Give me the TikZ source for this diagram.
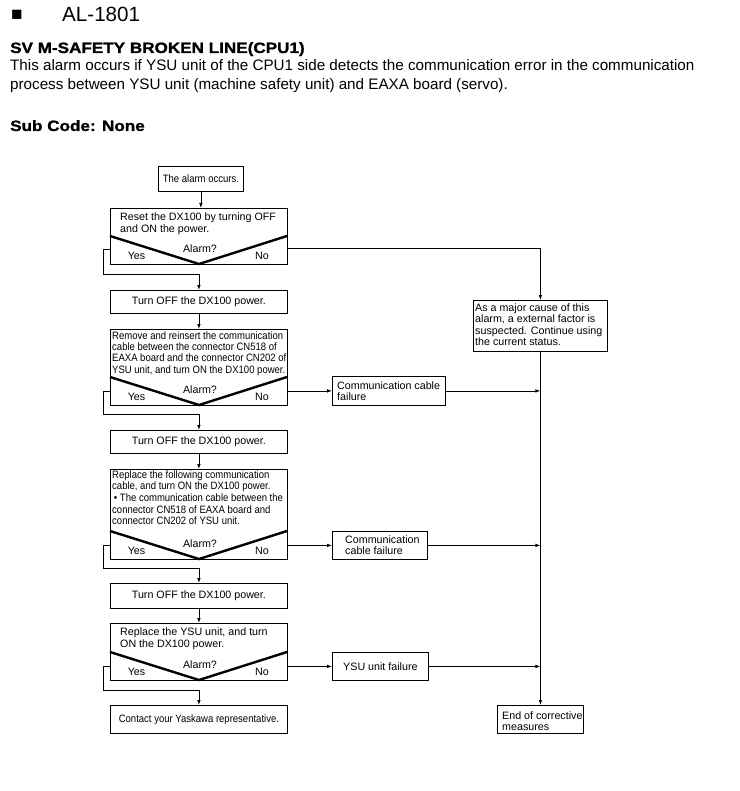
\documentclass[tikz,border=0pt]{standalone}
\usepackage{fontspec}
\setmainfont{Liberation Sans}
\newfontfamily\condfont{Liberation Sans}[FakeStretch=0.89]
\newfontfamily\titlefont{Liberation Sans}[FakeStretch=1.14,FakeBold=1.2]
\usetikzlibrary{arrows.meta,calc}
\newcommand\flownorm{\fontsize{10.7pt}{11.6pt}\selectfont}
\newcommand\flowcond{\condfont\fontsize{10.7pt}{11.3pt}\selectfont}
\begin{document}
\begin{tikzpicture}[x=1pt,y=-1pt,
  hdr/.style={anchor=base west, inner sep=0pt},
  box/.style={draw, line width=0.8pt, inner sep=0pt, anchor=north west},
  blk/.style={inner sep=0pt, anchor=north west, align=left},
  lbl/.style={inner sep=0pt, anchor=base, font=\flownorm},
  conn/.style={line width=0.8pt, -{Latex[length=5pt,width=3.6pt]}},
  vline/.style={line width=2.4pt}]
\fill[white] (0,0) rectangle (739,791);
\useasboundingbox (0,0) rectangle (739,791);

% header
\node[hdr, font=\fontsize{19pt}{19pt}\selectfont] (sq) at (11,21) {■};
\node[hdr, font=\fontsize{20.6pt}{22pt}\selectfont] (code) at (62,22) {AL-1801};
\node[hdr, font=\titlefont\bfseries\fontsize{15pt}{17pt}\selectfont] (title) at (10,53) {SV M-SAFETY BROKEN LINE(CPU1)};
\node[hdr, font=\fontsize{15.2pt}{19pt}\selectfont] (d1) at (10,71) {This alarm occurs if YSU unit of the CPU1 side detects the communication error in the communication};
\node[hdr, font=\fontsize{15.2pt}{19pt}\selectfont] (d2) at (10,90) {process between YSU unit (machine safety unit) and EAXA board (servo).};
\node[hdr, font=\titlefont\bfseries\fontsize{15pt}{17pt}\selectfont] (sub) at (10,131) {Sub Code: None};

% start
\node[box, minimum width=85pt, minimum height=25pt, font=\flowcond] (a0) at (158,166) {The alarm occurs.};

% decision 1
\node[box, minimum width=177pt, minimum height=56pt] (b1) at (110,208) {};
\node[blk, font=\flownorm] (b1t) at (120,212.7) {Reset the DX100 by turning OFF\\and ON the power.};
\draw[vline] (110,236) -- (199,264) -- (287,236);
\node[lbl] (b1q) at (200,252.5) {Alarm?};
\node[lbl] (b1y) at (136.5,259.5) {Yes};
\node[lbl] (b1n) at (262,259.5) {No};

\node[box, minimum width=177pt, minimum height=23pt, font=\flownorm] (b2) at (110,290) {Turn OFF the DX100 power.};

% decision 2
\node[box, minimum width=177pt, minimum height=76pt] (b3) at (110,329) {};
\node[blk, font=\flowcond] (b3t) at (112,331.2) {Remove and reinsert the communication\\cable between the connector CN518 of\\EAXA board and the connector CN202 of\\YSU unit, and turn ON the DX100 power.};
\draw[vline] (110,377) -- (199,405) -- (287,377);
\node[lbl] (b3q) at (200,393.5) {Alarm?};
\node[lbl] (b3y) at (136.5,400.5) {Yes};
\node[lbl] (b3n) at (262,400.5) {No};

\node[box, minimum width=177pt, minimum height=23pt, font=\flownorm] (b4) at (110,430) {Turn OFF the DX100 power.};

% decision 3
\node[box, minimum width=177pt, minimum height=90pt] (b5) at (110,469) {};
\node[blk, font=\condfont\fontsize{10.7pt}{11.7pt}\selectfont] (b5t) at (112,470.2) {Replace the following communication\\cable, and turn ON the DX100 power.\\\,\textbullet{} The communication cable between the\\connector CN518 of EAXA board and\\connector CN202 of YSU unit.};
\draw[vline] (110,531) -- (199,559) -- (287,531);
\node[lbl] (b5q) at (200,547.5) {Alarm?};
\node[lbl] (b5y) at (136.5,554.5) {Yes};
\node[lbl] (b5n) at (262,554.5) {No};

\node[box, minimum width=177pt, minimum height=25pt, font=\flownorm] (b6) at (110,583) {Turn OFF the DX100 power.};

% decision 4
\node[box, minimum width=177pt, minimum height=57pt] (b7) at (110,623) {};
\node[blk, font=\flownorm] (b7t) at (120,628) {Replace the YSU unit, and turn\\ON the DX100 power.};
\draw[vline] (110,652) -- (199,680) -- (287,652);
\node[lbl] (b7q) at (200,668.5) {Alarm?};
\node[lbl] (b7y) at (136.5,675.5) {Yes};
\node[lbl] (b7n) at (262,675.5) {No};

\node[box, minimum width=177pt, minimum height=28pt, font=\flowcond] (b8) at (110,705) {Contact your Yaskawa representative.};

% failure boxes
\node[box, minimum width=113pt, minimum height=29pt] (c1) at (332,376) {};
\node[blk, font=\flownorm] (c1t) at (337,381.2) {Communication cable\\failure};
\node[box, minimum width=95pt, minimum height=28pt] (c2) at (332,531) {};
\node[blk, font=\flownorm] (c2t) at (345,535.2) {Communication\\cable failure};
\node[box, minimum width=96pt, minimum height=28pt, font=\flownorm] (c3) at (332,652) {YSU unit failure};

% right column
\node[box, minimum width=134pt, minimum height=51pt] (r1) at (473,300) {};
\node[blk, font=\flownorm] (r1t) at (475,303.2) {As a major cause of this\\alarm, a external factor is\\suspected. Continue using\\the current status.};
\node[box, minimum width=86pt, minimum height=28pt] (r2) at (497,705) {};
\node[blk, font=\flownorm] (r2t) at (502,711.2) {End of corrective\\measures};

% connectors
\draw[conn] (a0.south) -- (a0.south |- b1.north);
\draw[conn] ([yshift=-13pt]b1.west) -- ++(-7,0) |- ($(b2.north)+(0,-16)$) -- (b2.north);
\draw[conn] ([yshift=-12pt]b1.east) -| (r1.north);
\draw[conn] (b2.south) -- (b3.north);
\draw[conn] (c1.west -| b3.east) -- (c1.west);
\draw[conn] (c1.west -| b3.west) -- ++(-7,0) |- ($(b4.north)+(0,-16)$) -- (b4.north);
\draw[conn] (c1.east) -- (c1.east -| r1.south);
\draw[conn] (b4.south) -- (b5.north);
\draw[conn] (c2.west -| b5.east) -- (c2.west);
\draw[conn] (c2.west -| b5.west) -- ++(-7,0) |- ($(b6.north)+(0,-15)$) -- (b6.north);
\draw[conn] (c2.east) -- (c2.east -| r1.south);
\draw[conn] (b6.south) -- (b7.north);
\draw[conn] (c3.west -| b7.east) -- (c3.west);
\draw[conn] (c3.west -| b7.west) -- ++(-7,0) |- ($(b8.north)+(0,-15)$) -- (b8.north);
\draw[conn] (c3.east) -- (c3.east -| r1.south);
\draw[conn] (r1.south) -- (r2.north);
\end{tikzpicture}
\end{document}
